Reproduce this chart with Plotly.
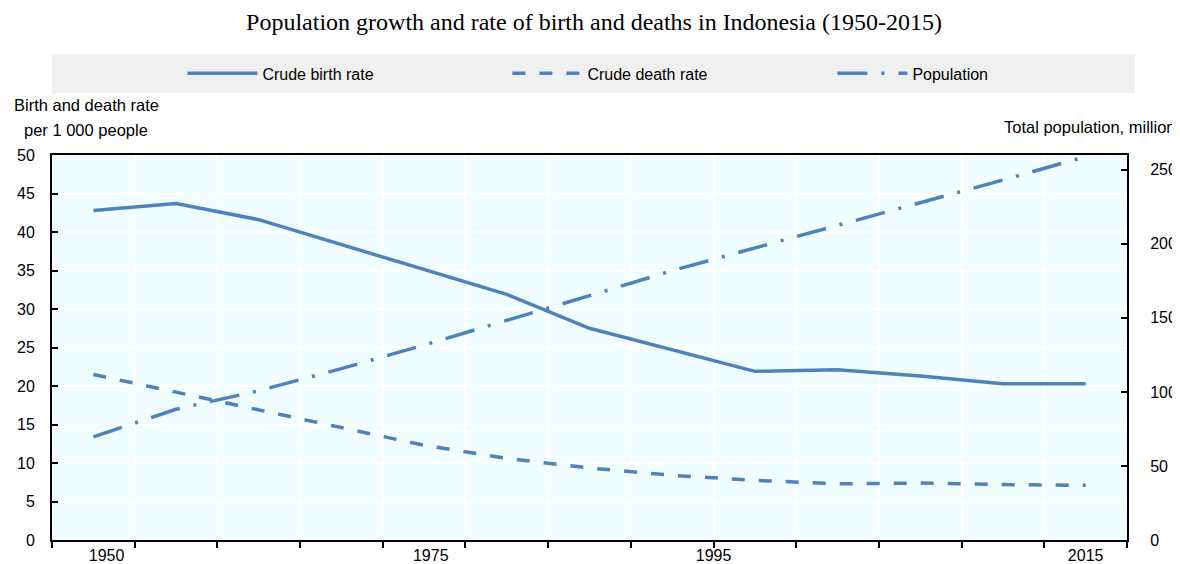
import plotly.graph_objects as go

# Data (13 periods)
periods = list(range(13))
birth_rate = [42.8, 43.7, 41.6, 38.4, 35.2, 31.9, 27.5, 24.7, 21.9, 22.1, 21.3, 20.3, 20.3]
death_rate = [21.5, 19.2, 16.9, 14.5, 12.3, 10.6, 9.35, 8.4, 7.75, 7.3, 7.4, 7.2, 7.1]
population = [69.6, 88.3, 100.8, 115.7, 131.7, 148.1, 165.0, 181.9, 197.2, 212.0, 227.4, 243.1, 258.9]
tick_labels = ["1950", "1975", "1995", "2015"]
tick_pos = [0.16, 4.08, 7.5, 12.0]
boundaries = [i + 0.5 for i in range(-1, 13)]

BLUE = "#4F81BD"
FONT = "Liberation Sans Narrow, Arial Narrow, Liberation Sans, Arial"

fig = go.Figure()
fig.add_trace(go.Scatter(x=periods, y=birth_rate, name="Crude birth rate", mode="lines",
                         line=dict(color=BLUE, width=3.5)))
fig.add_trace(go.Scatter(x=periods, y=death_rate, name="Crude death rate", mode="lines",
                         line=dict(color=BLUE, width=3.5, dash="13px,14px")))
fig.add_trace(go.Scatter(x=periods, y=population, name="Population", mode="lines", yaxis="y2",
                         line=dict(color=BLUE, width=3.5, dash="30px,14px,3px,14px")))

fig.update_layout(
    width=1172, height=556,
    margin=dict(l=44, r=53, t=147, b=24, autoexpand=False),
    paper_bgcolor="white",
    plot_bgcolor="#F0FEFF",
    font=dict(family=FONT, size=16, color="#000000"),
    title=dict(text="Population growth and rate of birth and deaths in Indonesia (1950-2015)",
               font=dict(family="Liberation Serif, Times New Roman, serif", size=24, color="#000"),
               x=0.5, xanchor="center", y=0.975, yanchor="middle", automargin=False),
    showlegend=True,
    legend=dict(orientation="h", x=0.1213, xanchor="left", y=1.212, yanchor="middle",
                bgcolor="rgba(0,0,0,0)", itemwidth=70, entrywidth=240, entrywidthmode="pixels",
                font=dict(family=FONT, size=16)),
    xaxis=dict(range=[-0.5, 12.5], tickmode="array", tickvals=tick_pos, ticktext=tick_labels,
               ticks="", showgrid=False, zeroline=False, automargin=False,
               showline=True, linecolor="#000", linewidth=2, mirror=True,
               tickfont=dict(family=FONT, size=16),
               minor=dict(tickmode="array", tickvals=boundaries, ticks="outside", ticklen=6,
                          tickcolor="#000", tickwidth=1.5, showgrid=True, gridcolor="white", gridwidth=1.5)),
    yaxis=dict(range=[0, 50], tickmode="array", tickvals=list(range(0, 51, 5)),
               ticks="inside", ticklen=6, tickcolor="#000", tickwidth=1.5, automargin=False,
               showgrid=True, gridcolor="white", gridwidth=1.5, zeroline=False,
               showline=True, linecolor="#000", linewidth=2, mirror=True,
               ticklabelstandoff=12, tickfont=dict(family=FONT, size=16)),
    yaxis2=dict(range=[0, 260], overlaying="y", side="right", tickmode="array",
                tickvals=[0, 50, 100, 150, 200, 250], ticks="inside", ticklen=6,
                tickcolor="#000", tickwidth=1.5, showgrid=False, zeroline=False, automargin=False,
                showline=True, linecolor="#000", linewidth=2,
                ticklabelstandoff=18, tickfont=dict(family=FONT, size=16)),
)

# Legend background band
fig.add_shape(type="rect", xref="paper", yref="paper", x0=0.0, x1=1.0074, y0=1.161, y1=1.262,
              fillcolor="#F0F0F0", line=dict(width=0), layer="below")

fig.add_annotation(text="Birth and death rate", xref="paper", yref="paper",
                   x=0.032, y=1.13, xanchor="center", yanchor="middle", showarrow=False,
                   font=dict(family=FONT, size=16.5))
fig.add_annotation(text="per 1 000 people", xref="paper", yref="paper",
                   x=0.032, y=1.065, xanchor="center", yanchor="middle", showarrow=False,
                   font=dict(family=FONT, size=16.5))
fig.add_annotation(text="Total population, million", xref="paper", yref="paper",
                   x=0.8835, y=1.072, xanchor="left", yanchor="middle", showarrow=False,
                   font=dict(family=FONT, size=16.5))

fig.write_html("out.html")
